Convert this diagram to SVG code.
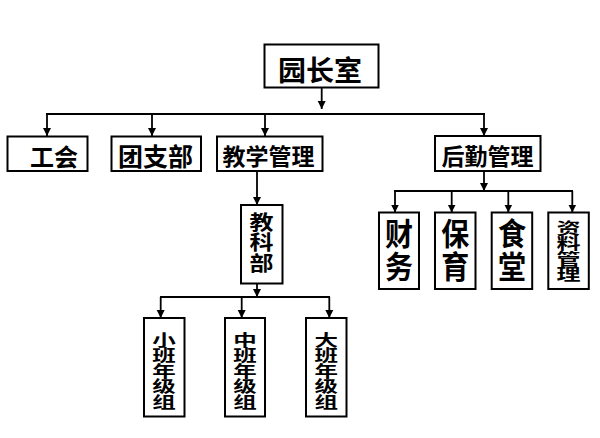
<svg xmlns="http://www.w3.org/2000/svg" width="600" height="438" viewBox="0 0 600 438">
<defs>
<marker id="ah" markerUnits="userSpaceOnUse" markerWidth="9" markerHeight="9" refX="8" refY="4.5" orient="auto">
<path d="M0,0.5 L8,4.5 L0,8.5 z" fill="#000"/>
</marker>
</defs>
<style>
.box{fill:#fff;stroke:#000;stroke-width:2}
.t{font-family:"Noto Sans CJK SC","Noto Sans",sans-serif;font-weight:700;fill:#000;text-anchor:middle;dominant-baseline:central}
.v{writing-mode:vertical-rl}
.c{fill:none;stroke:#000;stroke-width:1.8}
.a{marker-end:url(#ah)}
</style>
<rect width="600" height="438" fill="#fff"/>
<g id="connectors">
<line class="c a" x1="321.7" y1="88" x2="321.7" y2="109"/>
<line class="c" x1="46" y1="114" x2="485" y2="114"/>
<line class="c a" x1="47" y1="114" x2="47" y2="136"/>
<line class="c a" x1="152" y1="114" x2="152" y2="136"/>
<line class="c a" x1="265" y1="114" x2="265" y2="136"/>
<line class="c a" x1="484" y1="114" x2="484" y2="136"/>
<line class="c a" x1="257" y1="172" x2="257" y2="205"/>
<line class="c a" x1="257" y1="284" x2="257" y2="297"/>
<line class="c" x1="160" y1="297" x2="330" y2="297"/>
<line class="c a" x1="160.7" y1="297" x2="160.7" y2="318"/>
<line class="c a" x1="241.7" y1="297" x2="241.7" y2="318"/>
<line class="c a" x1="329.3" y1="297" x2="329.3" y2="318"/>
<line class="c a" x1="484" y1="171" x2="484" y2="191"/>
<line class="c" x1="394" y1="191" x2="573" y2="191"/>
<line class="c a" x1="395" y1="191" x2="395" y2="212.5"/>
<line class="c a" x1="451.7" y1="191" x2="451.7" y2="212.5"/>
<line class="c a" x1="508.3" y1="191" x2="508.3" y2="212.5"/>
<line class="c a" x1="572.3" y1="191" x2="572.3" y2="212.5"/>
</g>
<g id="yuanzhangshi">
<rect class="box" x="264.5" y="44.5" width="114" height="43"/>
<text class="t" x="320" y="69" font-size="28">园长室</text>
</g>
<g id="gonghui">
<rect class="box" x="7.5" y="136.5" width="80" height="34.5"/>
<text class="t" x="54" y="155" font-size="24">工会</text>
</g>
<g id="tuanzhibu">
<rect class="box" x="111.5" y="136.5" width="89.5" height="34.5"/>
<text class="t" x="155.5" y="155" font-size="25">团支部</text>
</g>
<g id="jiaoxueguanli">
<rect class="box" x="217" y="136.5" width="105.5" height="34.5"/>
<text class="t" x="268.5" y="155" font-size="23">教学管理</text>
</g>
<g id="houqinguanli">
<rect class="box" x="435" y="136" width="105.5" height="35"/>
<text class="t" x="487.5" y="154.5" font-size="23">后勤管理</text>
</g>
<g id="jiaokebu">
<rect class="box" x="241" y="205" width="41.5" height="78.5"/>
<g transform="translate(261.5,242.5) scale(1,0.85)">
<text class="t v" x="0" y="0" font-size="24">教科部</text>
</g>
</g>
<g id="xiaoban">
<rect class="box" x="144" y="318" width="40.5" height="98.5"/>
<g transform="translate(164,371) scale(1,0.66)">
<text class="t v" x="0" y="0" font-size="23.5">小班年级组</text>
</g>
</g>
<g id="zhongban">
<rect class="box" x="225" y="318" width="40" height="98.5"/>
<g transform="translate(245,371) scale(1,0.66)">
<text class="t v" x="0" y="0" font-size="23.5">中班年级组</text>
</g>
</g>
<g id="daban">
<rect class="box" x="306" y="318" width="40.5" height="98.5"/>
<g transform="translate(326.3,371) scale(1,0.66)">
<text class="t v" x="0" y="0" font-size="23.5">大班年级组</text>
</g>
</g>
<g id="caiwu">
<rect class="box" x="379" y="212.5" width="40" height="76.5"/>
<g transform="translate(399,251) scale(1,1.1)">
<text class="t v" x="0" y="0" font-size="28" letter-spacing="2">财务</text>
</g>
</g>
<g id="baoyu">
<rect class="box" x="435" y="212.5" width="40.5" height="76.5"/>
<g transform="translate(455.3,251) scale(1,1.1)">
<text class="t v" x="0" y="0" font-size="28" letter-spacing="2">保育</text>
</g>
</g>
<g id="shitang">
<rect class="box" x="491.7" y="212.5" width="40.5" height="76.5"/>
<g transform="translate(512,251) scale(1,1.1)">
<text class="t v" x="0" y="0" font-size="28" letter-spacing="2">食堂</text>
</g>
</g>
<g id="ziliaoguanli">
<rect class="box" x="548.3" y="212.5" width="40.5" height="76.5"/>
<g transform="translate(568.6,251) scale(1,0.65)">
<text class="t v" x="0" y="0" font-size="24">资料管理</text>
</g>
</g>
</svg>
